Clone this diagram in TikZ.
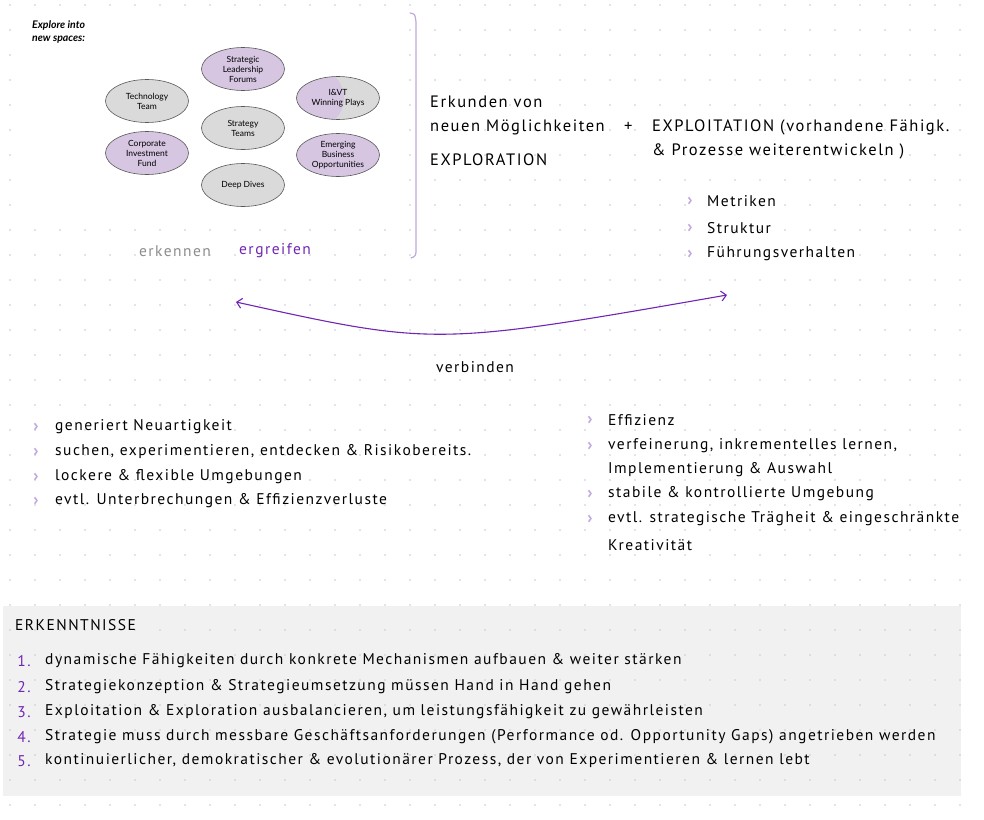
\documentclass[tikz,border=0pt]{standalone}
\usepackage{fontspec}
\usetikzlibrary{shapes.geometric,arrows.meta}
\newfontfamily\handfont[LetterSpace=9.5]{PT Sans}
\newfontfamily\slidefont{Lato}
\definecolor{lavender}{RGB}{214,198,226}
\definecolor{bubblegray}{RGB}{218,218,218}
\definecolor{deeppurple}{RGB}{112,38,180}
\definecolor{bulletlav}{RGB}{190,168,222}
\definecolor{dotgray}{RGB}{200,200,212}
\definecolor{boxgray}{RGB}{241,241,241}
\tikzset{
  hand/.style={font=\handfont\fontsize{15.5}{17}\selectfont, anchor=west, inner sep=0pt},
  bighand/.style={hand, font=\handfont\fontsize{16.5}{18}\selectfont},
  bubble/.style={ellipse, draw=black!65, line width=0.6pt, minimum width=83pt,
    minimum height=43pt, inner sep=0pt, align=center,
    font=\slidefont\fontsize{8.5}{10}\selectfont},
  chev/.style={font=\handfont\bfseries\fontsize{17}{17}\selectfont, text=bulletlav, inner sep=0pt},
  numlab/.style={hand, text=deeppurple, anchor=center},
}
\begin{document}
\begin{tikzpicture}[x=1pt, y=-1pt]
    \useasboundingbox (0,0) rectangle (984,819);
    \fill[white] (0,0) rectangle (984,819);
    % insights box and dot grid
    \fill[boxgray] (3,606) rectangle (961,796);
    \foreach \i in {0,...,39} \foreach \j in {0,...,32}
      \fill[dotgray] (10+25*\i, 5+25*\j) circle (0.8);
    \fill[white] (22,12) rectangle (398,214);
    % slide excerpt
    \node[anchor=north west, align=left, inner sep=0pt,
      font=\slidefont\bfseries\itshape\fontsize{10.5}{13}\selectfont] (explore) at (32,20)
      {Explore into\\new spaces:};
    \node[bubble, fill=lavender] (slf) at (243,69) {Strategic\\Leadership\\Forums};
    \node[bubble, fill=bubblegray] (tech) at (147,101) {Technology\\Team};
    \node[bubble, fill=bubblegray, path picture={\fill[lavender]
      ([xshift=-24pt]path picture bounding box.center) circle (30pt);}] (ivt) at (338,98)
      {I\&VT\\Winning Plays};
    \node[bubble, fill=bubblegray] (strat) at (243,128) {Strategy\\Teams};
    \node[bubble, fill=lavender] (cif) at (147,153) {Corporate\\Investment\\Fund};
    \node[bubble, fill=lavender] (ebo) at (338,155) {Emerging\\Business\\Opportunities};
    \node[bubble, fill=bubblegray] (deep) at (243,185) {Deep Dives};
    \node[hand, anchor=center, text=black!45] (erkennen) at (175,251) {erkennen};
    \node[hand, anchor=center, text=deeppurple] (ergreifen) at (275,251) {ergreifen};
    % brace
    \draw[bulletlav, line width=1.2pt, line cap=round]
      (410,13) .. controls (415,14) .. (416,22) -- (416,248) .. controls (416,256) .. (411,258);
    % exploration / exploitation
    \node[bighand] (erkunden) at (430,102) {Erkunden von};
    \node[bighand] (neuen) at (430,127) {neuen Möglichkeiten};
    \node[bighand] (plus) at (624,127) {+};
    \node[bighand] (exploit) at (652,127) {EXPLOITATION (vorhandene Fähigk.};
    \node[bighand] (prozesse) at (652,151) {\& Prozesse weiterentwickeln )};
    \node[bighand] (explor) at (430,160) {EXPLORATION};
    \foreach \y/\txt [count=\k] in {201/Metriken, 228/Struktur, 254/Führungsverhalten} {
      \node[chev] (mb\k) at (690,\y) {›};
      \node[hand] (m\k) at (707,\y) {\txt};
    }
    % connecting arrow
    \coordinate (arrL) at (236,302);
    \coordinate (arrR) at (727,295);
    \draw[deeppurple, line width=1.1pt, {Straight Barb[length=5pt]}-{Straight Barb[length=5pt]}]
      (arrL) .. controls (435,346) .. (arrR);
    \node[hand, anchor=center] (verbinden) at (475,367) {verbinden};
    % exploration features
    \foreach \y/\txt [count=\k] in {427/{generiert Neuartigkeit},
        452/{suchen, experimentieren, entdecken \& Risikobereits.},
        477/{lockere \& flexible Umgebungen},
        501/{evtl. Unterbrechungen \& Effizienzverluste}} {
      \node[chev] (lb\k) at (36,\y) {›};
      \node[hand] (l\k) at (55,\y) {\txt};
    }
    % exploitation features
    \foreach \y in {420,446,494,519} \node[chev] (rb\y) at (590,\y) {›};
    \foreach \y/\txt [count=\k] in {420/Effizienz,
        446/{verfeinerung, inkrementelles lernen,},
        470/{Implementierung \& Auswahl},
        494/{stabile \& kontrollierte Umgebung},
        519/{evtl. strategische Trägheit \& eingeschränkte},
        545/Kreativität}
      \node[hand] (r\k) at (608,\y) {\txt};
    % insights
    \node[hand] (erkenntnisse) at (15,625) {ERKENNTNISSE};
    \foreach \y/\txt [count=\k] in {
        661/{dynamische Fähigkeiten durch konkrete Mechanismen aufbauen \& weiter stärken},
        687/{Strategiekonzeption \& Strategieumsetzung müssen Hand in Hand gehen},
        712/{Exploitation \& Exploration ausbalancieren, um leistungsfähigkeit zu gewährleisten},
        737/{Strategie muss durch messbare Geschäftsanforderungen (Performance od. Opportunity Gaps) angetrieben werden},
        761/{kontinuierlicher, demokratischer \& evolutionärer Prozess, der von Experimentieren \& lernen lebt}} {
      \node[numlab] (n\k) at (24,\y) {\k.};
      \node[hand] (t\k) at (45,\y) {\txt};
    }
  \end{tikzpicture}
\end{document}
